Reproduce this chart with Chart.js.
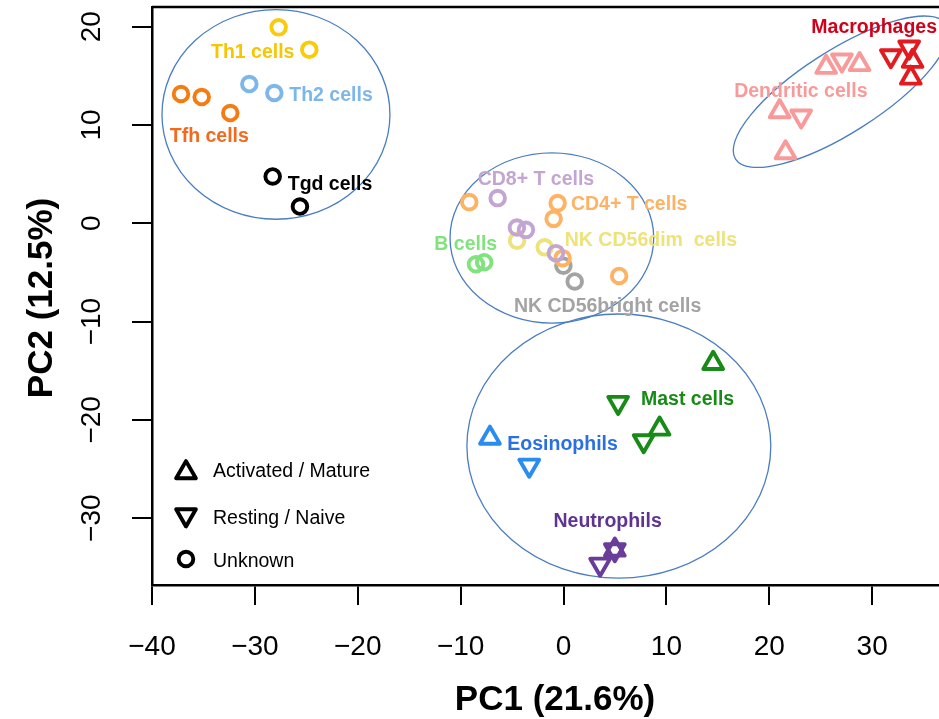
<!DOCTYPE html>
<html>
<head>
<meta charset="utf-8">
<script src="https://cdn.jsdelivr.net/npm/chart.js@4/dist/chart.umd.min.js"></script>
<style>
html, body { margin: 0; padding: 0; background: #fff; }
</style>
</head>
<body>
<canvas id="myChart" width="939" height="719"></canvas>
<script>
// axis ticks
const xTicks = [-40, -30, -20, -10, 0, 10, 20, 30]
const yTicks = [-30, -20, -10, 0, 10, 20]

// PCA scores per cell type: [PC1, PC2]
const th1Cells = [[-27.69, 19.93], [-24.71, 17.66]]
const th2Cells = [[-30.54, 14.16], [-28.11, 13.25]]
const tfhCells = [[-37.18, 13.15], [-35.17, 12.84], [-32.39, 11.21]]
const tgdCells = [[-28.27, 4.76], [-25.62, 1.70]]
const cd8Cells = [[-6.40, 2.56], [-4.53, -0.44], [-3.65, -0.67], [-0.74, -3.04]]
const cd4Cells = [[-9.16, 2.15], [-0.57, 2.05], [-0.96, 0.45], [-0.09, -3.55], [5.41, -5.36]]
const bCells = [[-8.51, -4.17], [-7.71, -3.96]]
const nkDimCells = [[-4.51, -1.77], [-1.83, -2.45]]
const nkBrightCells = [[-0.01, -4.32], [1.09, -5.92]]
const macrophages = [[31.82, 17.02], [33.60, 17.91], [33.93, 16.49], [33.76, 14.78]]
const dendriticCells = [[25.53, 15.88], [27.06, 16.59], [28.78, 16.16], [21.01, 11.37], [23.10, 10.89], [21.58, 7.19]]
const mastCells = [[14.55, -14.24], [5.31, -18.24], [9.34, -20.92], [7.79, -22.14]]
const eosinophils = [[-7.15, -21.85], [-3.33, -24.63]]
const neutrophils = [[4.99, -33.23], [4.99, -33.23], [3.56, -34.70]]

// marker per sample: up = activated / mature, down = resting / naive, o = unknown
const macrophageShapes = ['down', 'down', 'up', 'up']
const dendriticShapes = ['up', 'down', 'up', 'up', 'down', 'up']
const mastShapes = ['up', 'down', 'up', 'down']
const eosinophilShapes = ['up', 'down']
const neutrophilShapes = ['up', 'down', 'down']

// where each group name is written: [PC1, PC2]
const labelPositions = {
    'Th1 cells': [-30.21, 17.48],
    'Th2 cells': [-22.6, 13.15],
    'Tfh cells': [-34.43, 9.0],
    'Tgd cells': [-22.7, 4.14],
    'CD8+ T cells': [-2.68, 4.59],
    'CD4+ T cells': [6.38, 2.05],
    'B cells': [-9.5, -2.03],
    'NK CD56dim  cells': [8.5, -1.62],
    'NK CD56bright cells': [4.29, -8.31],
    'Macrophages': [30.2, 20.03],
    'Dendritic cells': [23.07, 13.58],
    'Mast cells': [12.06, -17.81],
    'Eosinophils': [-0.09, -22.33],
    'Neutrophils': [4.29, -30.2]
}

// cluster ellipses: centre, radii (PC units), tilt in degrees
const ellipseCenters = [[-27.95, 11.07], [-1.13, -1.49], [5.38, -22.67], [26.96, 13.38]]
const ellipseRadii = [[11.08, 10.66], [9.9, 8.66], [14.77, 13.44], [12.15, 4.18]]
const ellipseAngles = [0, 0, 0, 32.6]

const groups = [
    { name: 'Th1 cells', points: th1Cells, color: '#FACB0C', text: '#F7C600' },
    { name: 'Th2 cells', points: th2Cells, color: '#7DB7EA', text: '#7DB7EA' },
    { name: 'Tfh cells', points: tfhCells, color: '#F57C12', text: '#F26A1E' },
    { name: 'Tgd cells', points: tgdCells, color: '#000000', text: '#000000' },
    { name: 'CD8+ T cells', points: cd8Cells, color: '#C3A5D3', text: '#C3A5D3' },
    { name: 'CD4+ T cells', points: cd4Cells, color: '#FDB264', text: '#FDB264' },
    { name: 'B cells', points: bCells, color: '#80E37E', text: '#80E37E' },
    { name: 'NK CD56dim  cells', points: nkDimCells, color: '#EDE37A', text: '#EDE37A' },
    { name: 'NK CD56bright cells', points: nkBrightCells, color: '#A3A3A3', text: '#A3A3A3' },
    { name: 'Macrophages', points: macrophages, shapes: macrophageShapes, color: '#E31B1E', text: '#D0021B' },
    { name: 'Dendritic cells', points: dendriticCells, shapes: dendriticShapes, color: '#F99A9A', text: '#F99A9A' },
    { name: 'Mast cells', points: mastCells, shapes: mastShapes, color: '#178A17', text: '#178A17' },
    { name: 'Eosinophils', points: eosinophils, shapes: eosinophilShapes, color: '#2B8CF0', text: '#2B70E2' },
    { name: 'Neutrophils', points: neutrophils, shapes: neutrophilShapes, color: '#6A3D9A', text: '#5E3391' }
]

const FONT = '"Liberation Sans", Arial, Helvetica, sans-serif'
const LINE_W = 3.9
const TRI_R = 11.4
const CIRC_R = 7.3

function shapesOf(g) {
    return g.shapes || g.points.map(() => 'o')
}

function minusSign(v) {
    return v < 0 ? '\u2212' + Math.abs(v) : String(v)
}

function marker(ctx, shape, x, y) {
    ctx.beginPath()
    if (shape === 'o') {
        ctx.arc(x, y, CIRC_R, 0, Math.PI * 2)
    } else {
        let rad = shape === 'down' ? Math.PI : 0
        for (let i = 0; i < 3; i++) {
            let px = x + Math.sin(rad) * TRI_R
            let py = y - Math.cos(rad) * TRI_R
            if (i === 0) ctx.moveTo(px, py)
            else ctx.lineTo(px, py)
            rad += Math.PI * 2 / 3
        }
        ctx.closePath()
    }
    ctx.stroke()
}

const decorations = {
    id: 'decorations',
    beforeDatasetsDraw(chart) {
        const ctx = chart.ctx
        const xs = chart.scales.x
        const ys = chart.scales.y
        const sx = Math.abs(xs.getPixelForValue(1) - xs.getPixelForValue(0))
        const sy = Math.abs(ys.getPixelForValue(1) - ys.getPixelForValue(0))
        ctx.save()
        ctx.strokeStyle = '#4A7DC2'
        ctx.lineWidth = 1.3
        ellipseCenters.forEach((c, i) => {
            ctx.beginPath()
            ctx.ellipse(xs.getPixelForValue(c[0]), ys.getPixelForValue(c[1]),
                ellipseRadii[i][0] * sx, ellipseRadii[i][1] * sy,
                -ellipseAngles[i] * Math.PI / 180, 0, Math.PI * 2)
            ctx.stroke()
        })
        ctx.restore()
        ctx.save()
        ctx.lineJoin = 'round'
    },
    afterDatasetsDraw(chart) {
        const ctx = chart.ctx
        ctx.restore()
        const xs = chart.scales.x
        const ys = chart.scales.y
        ctx.save()
        ctx.font = 'bold 19.5px ' + FONT
        ctx.textAlign = 'center'
        ctx.textBaseline = 'alphabetic'
        groups.forEach(g => {
            const p = labelPositions[g.name]
            ctx.fillStyle = g.text
            ctx.fillText(g.name, xs.getPixelForValue(p[0]), ys.getPixelForValue(p[1]) + 7)
        })
        ctx.restore()
    },
    afterDraw(chart) {
        const ctx = chart.ctx
        const area = chart.chartArea
        const xs = chart.scales.x
        const ys = chart.scales.y
        ctx.save()
        // top edge of the box
        ctx.strokeStyle = '#000'
        ctx.lineWidth = 2.5
        ctx.beginPath()
        ctx.moveTo(area.left, area.top)
        ctx.lineTo(area.right, area.top)
        ctx.stroke()

        ctx.fillStyle = '#000'
        ctx.font = '28px ' + FONT
        ctx.textAlign = 'center'
        ctx.textBaseline = 'alphabetic'
        xTicks.forEach(v => {
            ctx.fillText(minusSign(v), xs.getPixelForValue(v), 655)
        })
        yTicks.forEach(v => {
            ctx.save()
            ctx.translate(100, ys.getPixelForValue(v))
            ctx.rotate(-Math.PI / 2)
            ctx.fillText(minusSign(v), 0, 0)
            ctx.restore()
        })

        ctx.font = 'bold 35px ' + FONT
        ctx.fillText('PC1 (21.6%)', 555, 710)
        ctx.save()
        ctx.translate(52, 298)
        ctx.rotate(-Math.PI / 2)
        ctx.fillText('PC2 (12.5%)', 0, 0)
        ctx.restore()

        // legend
        ctx.strokeStyle = '#000'
        ctx.lineWidth = LINE_W
        ctx.lineJoin = 'round'
        marker(ctx, 'up', 186, 472.5)
        marker(ctx, 'down', 186, 515)
        marker(ctx, 'o', 186, 559)
        ctx.font = '19.5px ' + FONT
        ctx.textAlign = 'left'
        ctx.fillText('Activated / Mature', 213, 477)
        ctx.fillText('Resting / Naive', 213, 524)
        ctx.fillText('Unknown', 213, 567)
        ctx.restore()
    }
}

new Chart(document.getElementById('myChart').getContext('2d'), {
    type: 'scatter',
    data: {
        datasets: groups.map(g => {
            const shapes = shapesOf(g)
            return {
                label: g.name,
                data: g.points.map(p => ({ x: p[0], y: p[1] })),
                borderColor: g.color,
                backgroundColor: 'rgba(0,0,0,0)',
                pointBorderColor: g.color,
                pointBackgroundColor: 'rgba(0,0,0,0)',
                pointStyle: shapes.map(s => s === 'o' ? 'circle' : 'triangle'),
                pointRotation: shapes.map(s => s === 'down' ? 180 : 0),
                pointRadius: shapes.map(s => s === 'o' ? CIRC_R : TRI_R),
                pointBorderWidth: LINE_W,
                showLine: false
            }
        })
    },
    options: {
        responsive: false,
        animation: false,
        layout: { autoPadding: false, padding: { top: 7, right: 0, bottom: 0, left: 0 } },
        plugins: {
            legend: { display: false },
            tooltip: { enabled: false }
        },
        scales: {
            x: {
                type: 'linear',
                min: -40,
                max: 36.5,
                afterBuildTicks: s => { s.ticks = xTicks.map(v => ({ value: v })) },
                afterFit: s => { s.height = 134 },
                grid: { display: true, drawOnChartArea: false, drawTicks: true, tickLength: 20, color: '#000', lineWidth: 2 },
                border: { display: true, color: '#000', width: 2.5 },
                ticks: { display: false }
            },
            y: {
                type: 'linear',
                min: -36.8,
                max: 22.0,
                afterBuildTicks: s => { s.ticks = yTicks.map(v => ({ value: v })) },
                afterFit: s => { s.width = 152 },
                grid: { display: true, drawOnChartArea: false, drawTicks: true, tickLength: 20, color: '#000', lineWidth: 2 },
                border: { display: true, color: '#000', width: 2.5 },
                ticks: { display: false }
            }
        }
    },
    plugins: [decorations]
})
</script>
</body>
</html>
